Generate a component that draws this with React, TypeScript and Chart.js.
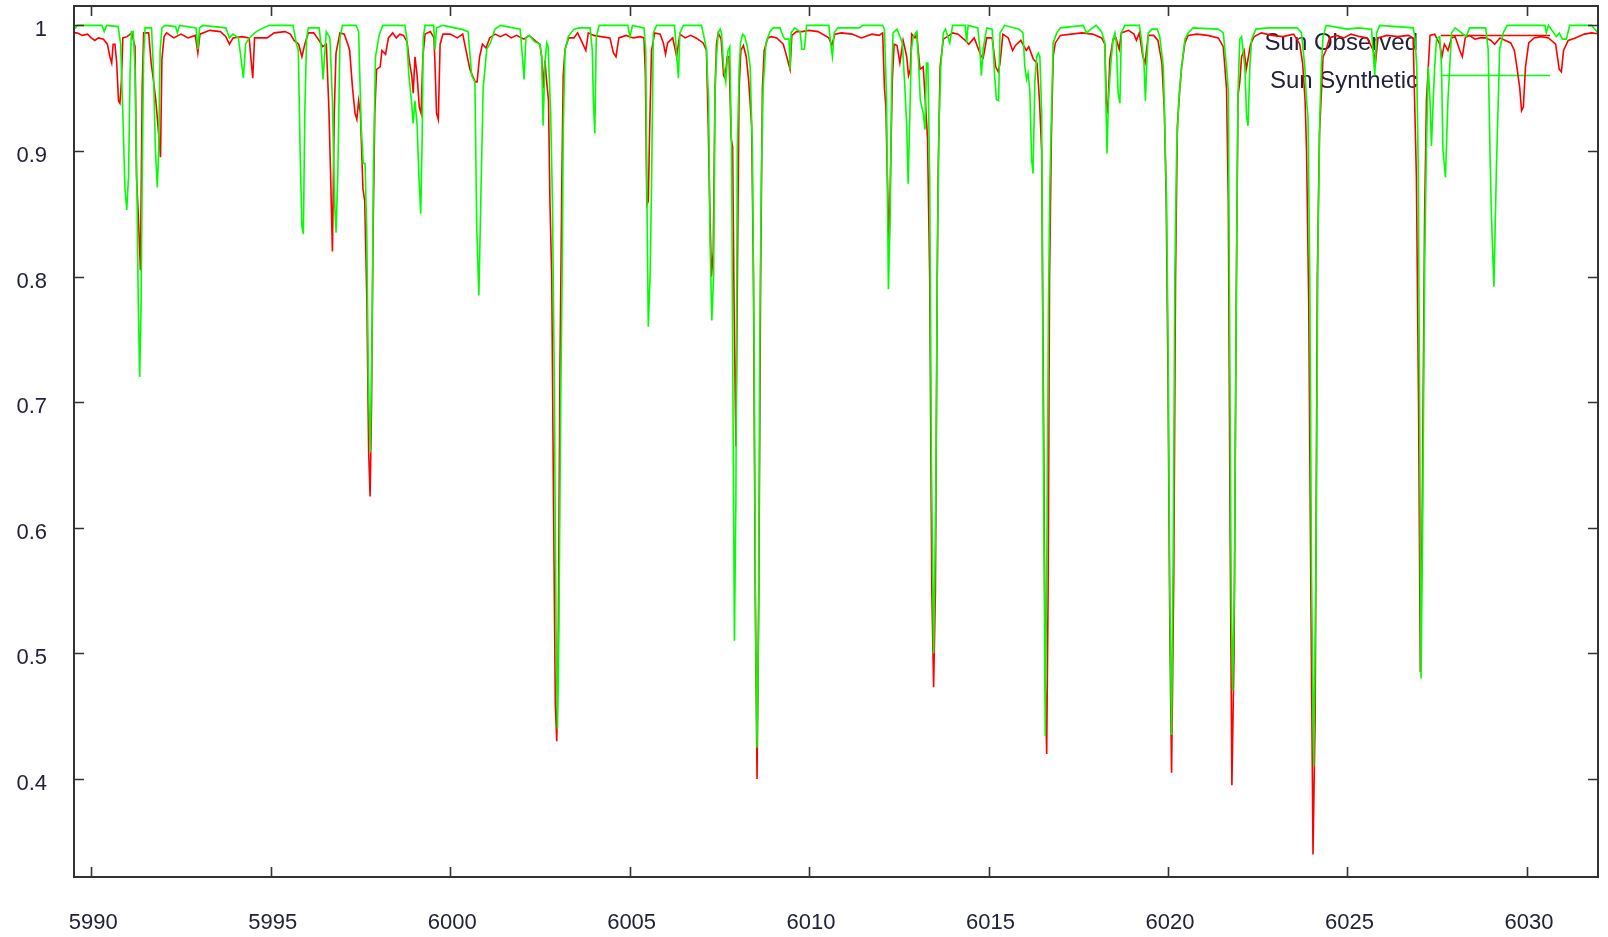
import { useEffect, useRef } from 'react';
import { Chart, registerables } from 'chart.js';

Chart.register(...registerables);

const seriesNames = ['Sun Observed', 'Sun Synthetic'];
const seriesColors = ['#ff0000', '#00ff00'];
const xTickValues = [5990, 5995, 6000, 6005, 6010, 6015, 6020, 6025, 6030];
const yTickValues = [0.4, 0.5, 0.6, 0.7, 0.8, 0.9, 1];
const xRange = [5989.52, 6031.98];
const yRange = [0.322, 1.0154];

// [wavelength, normalised flux]
const observedSpectrum: [number, number][] = [
  [5989.50,0.994],[5989.60,0.994],[5989.75,0.992],[5989.90,0.993],[5990.00,0.990],[5990.10,0.988],[5990.20,0.990],[5990.34,0.989],[5990.45,0.985],[5990.52,0.975],
  [5990.57,0.97],[5990.61,0.985],[5990.66,0.985],[5990.71,0.97],[5990.76,0.94],[5990.80,0.938],[5990.84,0.955],[5990.88,0.99],[5991.00,0.991],[5991.13,0.994],
  [5991.22,0.983],[5991.26,0.88],[5991.31,0.85],[5991.37,0.805],[5991.42,0.95],[5991.46,0.994],[5991.60,0.994],[5991.67,0.97],[5991.74,0.955],[5991.80,0.94],
  [5991.86,0.92],[5991.93,0.895],[5991.97,0.973],[5992.03,0.991],[5992.10,0.994],[5992.30,0.99],[5992.50,0.993],[5992.70,0.99],[5992.90,0.992],[5992.97,0.978],
  [5993.03,0.993],[5993.30,0.996],[5993.60,0.995],[5993.75,0.991],[5993.85,0.985],[5993.95,0.99],[5994.20,0.991],[5994.40,0.99],[5994.46,0.97],[5994.50,0.958],
  [5994.55,0.99],[5994.70,0.99],[5994.90,0.99],[5995.10,0.994],[5995.40,0.995],[5995.55,0.993],[5995.65,0.988],[5995.78,0.985],[5995.87,0.975],[5995.95,0.985],
  [5996.05,0.994],[5996.20,0.994],[5996.35,0.988],[5996.45,0.983],[5996.55,0.985],[5996.62,0.935],[5996.67,0.88],[5996.72,0.82],[5996.77,0.93],[5996.82,0.978],
  [5996.93,0.994],[5997.05,0.993],[5997.15,0.985],[5997.20,0.98],[5997.28,0.95],[5997.35,0.93],[5997.40,0.925],[5997.45,0.94],[5997.50,0.93],[5997.57,0.87],
  [5997.62,0.86],[5997.68,0.78],[5997.73,0.66],[5997.77,0.625],[5997.81,0.70],[5997.85,0.83],[5997.90,0.93],[5997.95,0.965],[5998.05,0.967],[5998.10,0.98],
  [5998.20,0.977],[5998.28,0.99],[5998.40,0.994],[5998.50,0.99],[5998.60,0.993],[5998.70,0.992],[5998.80,0.987],[5998.87,0.97],[5998.93,0.96],[5998.97,0.946],
  [5999.02,0.975],[5999.08,0.96],[5999.14,0.935],[5999.19,0.93],[5999.24,0.975],[5999.30,0.993],[5999.45,0.995],[5999.55,0.99],[5999.58,0.967],[5999.62,0.93],
  [5999.67,0.925],[5999.72,0.985],[5999.80,0.993],[6000.00,0.993],[6000.20,0.99],[6000.35,0.993],[6000.55,0.965],[6000.62,0.96],[6000.70,0.955],[6000.75,0.955],
  [6000.82,0.975],[6000.90,0.985],[6001.00,0.982],[6001.10,0.99],[6001.25,0.993],[6001.40,0.991],[6001.55,0.993],[6001.70,0.99],[6001.85,0.992],[6002.05,0.989],
  [6002.20,0.992],[6002.40,0.987],[6002.50,0.985],[6002.55,0.975],[6002.59,0.95],[6002.64,0.972],[6002.69,0.955],[6002.74,0.94],[6002.78,0.86],[6002.83,0.80],
  [6002.88,0.62],[6002.93,0.46],[6002.97,0.43],[6003.01,0.50],[6003.06,0.73],[6003.11,0.872],[6003.15,0.96],[6003.20,0.981],[6003.30,0.99],[6003.45,0.99],
  [6003.55,0.994],[6003.70,0.985],[6003.78,0.98],[6003.85,0.994],[6004.00,0.992],[6004.20,0.991],[6004.45,0.99],[6004.55,0.978],[6004.62,0.975],[6004.70,0.99],
  [6004.90,0.992],[6005.10,0.99],[6005.30,0.991],[6005.40,0.99],[6005.44,0.96],[6005.48,0.857],[6005.52,0.86],[6005.56,0.92],[6005.61,0.98],[6005.70,0.994],
  [6005.85,0.993],[6005.94,0.986],[6006.00,0.977],[6006.06,0.986],[6006.20,0.99],[6006.31,0.975],[6006.40,0.993],[6006.55,0.99],[6006.70,0.992],[6006.85,0.99],
  [6006.95,0.988],[6007.05,0.986],[6007.14,0.98],[6007.19,0.92],[6007.23,0.86],[6007.28,0.80],[6007.33,0.82],[6007.38,0.95],[6007.42,0.985],[6007.47,0.994],
  [6007.55,0.989],[6007.62,0.96],[6007.66,0.958],[6007.72,0.975],[6007.77,0.975],[6007.83,0.91],[6007.87,0.903],[6007.91,0.78],[6007.96,0.665],[6008.00,0.79],
  [6008.05,0.95],[6008.10,0.98],[6008.17,0.984],[6008.25,0.975],[6008.32,0.955],[6008.40,0.92],[6008.45,0.80],[6008.50,0.55],[6008.55,0.40],[6008.60,0.55],
  [6008.65,0.80],[6008.70,0.95],[6008.75,0.98],[6008.85,0.99],[6008.95,0.991],[6009.10,0.99],[6009.28,0.985],[6009.35,0.978],[6009.47,0.965],[6009.52,0.992],
  [6009.65,0.995],[6009.80,0.995],[6010.00,0.996],[6010.25,0.995],[6010.55,0.99],[6010.63,0.984],[6010.72,0.993],[6010.90,0.994],[6011.20,0.993],[6011.45,0.99],
  [6011.55,0.991],[6011.75,0.993],[6011.95,0.992],[6012.05,0.994],[6012.10,0.95],[6012.14,0.935],[6012.18,0.88],[6012.23,0.823],[6012.28,0.90],[6012.32,0.957],
  [6012.37,0.985],[6012.45,0.984],[6012.53,0.97],[6012.62,0.988],[6012.72,0.975],[6012.77,0.96],[6012.82,0.965],[6012.86,0.993],[6012.95,0.99],[6013.00,0.993],
  [6013.09,0.965],[6013.18,0.967],[6013.23,0.944],[6013.30,0.91],[6013.36,0.80],[6013.42,0.55],[6013.47,0.473],[6013.52,0.55],[6013.57,0.80],[6013.60,0.89],
  [6013.65,0.967],[6013.74,0.989],[6013.85,0.991],[6014.00,0.994],[6014.15,0.993],[6014.35,0.988],[6014.45,0.985],[6014.60,0.99],[6014.80,0.975],[6014.85,0.974],
  [6014.95,0.99],[6015.10,0.99],[6015.20,0.967],[6015.27,0.963],[6015.32,0.97],[6015.40,0.993],[6015.55,0.99],[6015.67,0.98],[6015.75,0.984],[6015.90,0.988],
  [6016.05,0.98],[6016.12,0.983],[6016.25,0.973],[6016.35,0.97],[6016.42,0.94],[6016.48,0.90],[6016.53,0.70],[6016.58,0.48],[6016.62,0.42],[6016.66,0.55],
  [6016.70,0.80],[6016.75,0.91],[6016.80,0.975],[6016.86,0.986],[6017.00,0.992],[6017.30,0.993],[6017.60,0.994],[6017.90,0.993],[6018.15,0.99],[6018.24,0.985],
  [6018.28,0.94],[6018.32,0.93],[6018.38,0.973],[6018.47,0.989],[6018.55,0.99],[6018.64,0.981],[6018.70,0.994],[6018.90,0.996],[6019.05,0.993],[6019.12,0.988],
  [6019.20,0.994],[6019.30,0.975],[6019.36,0.97],[6019.45,0.992],[6019.60,0.992],[6019.72,0.988],[6019.83,0.97],[6019.90,0.93],[6019.95,0.86],[6020.00,0.72],
  [6020.05,0.52],[6020.10,0.405],[6020.16,0.56],[6020.21,0.80],[6020.26,0.92],[6020.33,0.95],[6020.38,0.967],[6020.47,0.986],[6020.56,0.992],[6020.80,0.993],
  [6021.10,0.992],[6021.40,0.99],[6021.54,0.983],[6021.63,0.95],[6021.68,0.86],[6021.73,0.60],[6021.78,0.395],[6021.84,0.50],[6021.90,0.78],[6021.95,0.944],
  [6022.00,0.955],[6022.05,0.975],[6022.12,0.98],[6022.18,0.965],[6022.24,0.975],[6022.30,0.985],[6022.40,0.991],[6022.60,0.994],[6022.90,0.992],[6023.20,0.991],
  [6023.50,0.993],[6023.67,0.985],[6023.75,0.97],[6023.82,0.94],[6023.86,0.90],[6023.92,0.78],[6023.98,0.55],[6024.04,0.34],[6024.10,0.45],[6024.16,0.80],
  [6024.22,0.914],[6024.32,0.975],[6024.40,0.98],[6024.50,0.99],[6024.70,0.992],[6024.90,0.99],[6025.10,0.993],[6025.35,0.991],[6025.55,0.99],[6025.72,0.98],
  [6025.78,0.97],[6025.85,0.99],[6026.10,0.992],[6026.40,0.991],[6026.70,0.992],[6026.83,0.99],[6026.92,0.88],[6026.98,0.70],[6027.03,0.485],[6027.08,0.60],
  [6027.15,0.85],[6027.20,0.94],[6027.30,0.992],[6027.43,0.993],[6027.57,0.985],[6027.63,0.975],[6027.70,0.985],[6027.80,0.98],[6027.90,0.99],[6028.00,0.991],
  [6028.13,0.98],[6028.20,0.975],[6028.28,0.99],[6028.40,0.992],[6028.55,0.989],[6028.70,0.99],[6028.85,0.99],[6029.00,0.988],[6029.10,0.985],[6029.25,0.99],
  [6029.40,0.988],[6029.55,0.986],[6029.65,0.98],[6029.72,0.967],[6029.80,0.95],[6029.85,0.932],[6029.90,0.935],[6029.96,0.967],[6030.05,0.986],[6030.20,0.99],
  [6030.40,0.991],[6030.60,0.99],[6030.80,0.985],[6030.90,0.965],[6030.96,0.963],[6031.02,0.98],[6031.15,0.988],[6031.35,0.99],[6031.60,0.993],[6031.80,0.994],
  [6032.05,0.993],
];

const syntheticSpectrum: [number, number][] = [
  [5989.50,0.997],[5989.56,0.998],[5989.62,1.0],[5990.30,1.0],[5990.36,0.995],[5990.43,1.0],[5990.75,0.999],[5990.82,0.985],[5990.88,0.93],[5990.94,0.87],
  [5990.99,0.853],[5991.04,0.88],[5991.08,0.96],[5991.12,0.995],[5991.17,0.995],[5991.22,0.965],[5991.27,0.877],[5991.31,0.78],[5991.35,0.72],[5991.39,0.78],
  [5991.42,0.88],[5991.46,0.975],[5991.50,0.998],[5991.68,0.998],[5991.73,0.967],[5991.79,0.90],[5991.84,0.871],[5991.88,0.90],[5991.92,0.98],[5991.97,0.998],
  [5992.05,1.0],[5992.35,0.999],[5992.40,0.994],[5992.46,1.0],[5992.92,0.998],[5992.97,0.981],[5993.02,0.998],[5993.10,1.0],[5993.75,0.998],[5993.85,0.99],
  [5993.95,0.993],[5994.10,0.99],[5994.18,0.972],[5994.24,0.958],[5994.30,0.985],[5994.40,0.99],[5994.60,0.995],[5994.80,0.998],[5994.95,1.0],[5995.62,1.0],
  [5995.72,0.985],[5995.77,0.98],[5995.82,0.90],[5995.87,0.84],[5995.91,0.834],[5995.95,0.93],[5996.00,0.99],[5996.05,0.998],[5996.35,0.998],[5996.40,0.985],
  [5996.46,0.957],[5996.50,0.975],[5996.55,0.995],[5996.65,0.99],[5996.72,0.94],[5996.78,0.86],[5996.82,0.835],[5996.87,0.88],[5996.93,0.99],[5997.00,1.0],
  [5997.38,1.0],[5997.45,0.995],[5997.52,0.92],[5997.58,0.89],[5997.63,0.89],[5997.68,0.83],[5997.72,0.72],[5997.77,0.66],[5997.82,0.74],[5997.86,0.88],
  [5997.92,0.975],[5998.02,0.992],[5998.12,1.0],[5998.74,1.0],[5998.79,0.99],[5998.85,0.96],[5998.92,0.94],[5998.97,0.922],[5999.02,0.94],[5999.08,0.92],
  [5999.13,0.88],[5999.18,0.85],[5999.22,0.91],[5999.25,0.99],[5999.30,1.0],[5999.54,1.0],[5999.58,0.981],[5999.62,0.998],[5999.80,1.0],[6000.30,0.997],
  [6000.50,0.995],[6000.60,0.96],[6000.69,0.955],[6000.74,0.84],[6000.80,0.785],[6000.86,0.87],[6000.92,0.95],[6001.02,0.981],[6001.12,0.986],[6001.25,0.997],
  [6001.40,1.0],[6001.95,0.997],[6002.00,0.98],[6002.06,0.957],[6002.11,0.99],[6002.20,0.992],[6002.35,0.987],[6002.50,0.985],[6002.55,0.975],[6002.59,0.92],
  [6002.64,0.97],[6002.69,0.986],[6002.73,0.983],[6002.80,0.93],[6002.85,0.86],[6002.90,0.72],[6002.95,0.52],[6002.99,0.44],[6003.03,0.52],[6003.08,0.70],
  [6003.12,0.80],[6003.15,0.914],[6003.20,0.98],[6003.29,0.991],[6003.45,0.997],[6003.60,0.998],[6003.90,0.998],[6003.96,0.98],[6003.99,0.94],[6004.03,0.914],
  [6004.07,0.99],[6004.15,1.0],[6004.95,1.0],[6005.01,0.991],[6005.08,1.0],[6005.40,0.998],[6005.45,0.98],[6005.48,0.87],[6005.52,0.76],[6005.57,0.80],
  [6005.61,0.87],[6005.66,0.994],[6005.75,1.0],[6006.25,1.0],[6006.31,0.977],[6006.36,0.958],[6006.40,0.994],[6006.50,1.0],[6007.00,1.0],[6007.05,0.994],
  [6007.14,0.981],[6007.20,0.94],[6007.24,0.83],[6007.29,0.765],[6007.34,0.80],[6007.38,0.946],[6007.42,0.975],[6007.47,0.994],[6007.52,0.997],[6007.56,0.994],
  [6007.62,0.967],[6007.68,0.955],[6007.74,0.98],[6007.79,0.983],[6007.84,0.90],[6007.88,0.70],[6007.92,0.51],[6007.96,0.62],[6008.00,0.90],[6008.05,0.965],
  [6008.09,0.986],[6008.15,0.993],[6008.21,0.991],[6008.28,0.983],[6008.36,0.967],[6008.42,0.90],[6008.47,0.74],[6008.51,0.52],[6008.55,0.425],[6008.59,0.52],
  [6008.63,0.76],[6008.67,0.88],[6008.72,0.95],[6008.80,0.986],[6008.91,0.995],[6009.00,0.998],[6009.19,0.998],[6009.28,0.991],[6009.33,0.989],[6009.44,0.989],
  [6009.47,0.965],[6009.50,0.994],[6009.60,0.998],[6009.75,0.995],[6009.80,0.981],[6009.87,0.981],[6009.93,1.0],[6010.55,1.0],[6010.60,0.986],[6010.65,0.975],
  [6010.70,0.994],[6010.80,0.998],[6011.40,0.998],[6011.50,1.0],[6012.05,1.0],[6012.10,0.997],[6012.16,0.94],[6012.21,0.79],[6012.26,0.85],[6012.30,0.955],
  [6012.34,0.994],[6012.45,0.997],[6012.60,0.986],[6012.67,0.95],[6012.72,0.92],[6012.76,0.874],[6012.80,0.92],[6012.85,0.98],[6012.90,0.991],[6013.00,0.995],
  [6013.05,0.97],[6013.10,0.94],[6013.18,0.93],[6013.23,0.917],[6013.27,0.97],[6013.31,0.97],[6013.36,0.88],[6013.41,0.65],[6013.47,0.50],[6013.53,0.62],
  [6013.58,0.83],[6013.62,0.92],[6013.67,0.967],[6013.74,0.994],[6013.80,0.997],[6013.92,0.986],[6014.00,1.0],[6014.35,1.0],[6014.39,0.986],[6014.43,1.0],
  [6014.70,0.998],[6014.76,0.981],[6014.80,0.96],[6014.85,0.981],[6014.95,0.998],[6015.10,0.997],[6015.17,0.96],[6015.22,0.941],[6015.28,0.94],[6015.32,0.994],
  [6015.45,1.0],[6015.85,0.997],[6015.96,0.994],[6016.01,0.967],[6016.06,0.957],[6016.10,0.962],[6016.15,0.948],[6016.20,0.893],[6016.24,0.882],[6016.29,0.955],
  [6016.34,0.975],[6016.39,0.978],[6016.43,0.975],[6016.48,0.93],[6016.52,0.70],[6016.58,0.434],[6016.63,0.60],[6016.67,0.78],[6016.71,0.874],[6016.75,0.927],
  [6016.80,0.986],[6016.90,0.994],[6017.00,0.998],[6017.64,1.0],[6017.73,0.994],[6017.85,0.997],[6018.00,1.0],[6018.15,0.995],[6018.24,0.986],[6018.27,0.94],
  [6018.30,0.898],[6018.34,0.94],[6018.40,0.967],[6018.47,0.989],[6018.52,0.994],[6018.56,0.986],[6018.61,0.946],[6018.66,0.938],[6018.70,0.994],[6018.80,1.0],
  [6019.20,1.0],[6019.26,0.989],[6019.33,0.97],[6019.37,0.94],[6019.41,0.97],[6019.45,0.994],[6019.55,0.997],[6019.70,0.997],[6019.77,0.991],[6019.87,0.967],
  [6019.91,0.92],[6019.96,0.86],[6020.00,0.75],[6020.05,0.55],[6020.10,0.435],[6020.15,0.60],[6020.19,0.80],[6020.24,0.90],[6020.30,0.94],[6020.38,0.967],
  [6020.47,0.989],[6020.56,0.994],[6020.70,0.998],[6021.40,0.997],[6021.54,0.994],[6021.63,0.967],[6021.68,0.948],[6021.72,0.75],[6021.76,0.55],[6021.80,0.47],
  [6021.85,0.55],[6021.91,0.81],[6021.95,0.946],[6022.00,0.989],[6022.05,0.991],[6022.14,0.967],[6022.19,0.927],[6022.23,0.92],[6022.28,0.967],[6022.33,0.989],
  [6022.45,0.997],[6022.80,0.998],[6023.60,0.998],[6023.72,0.994],[6023.81,0.967],[6023.86,0.94],[6023.90,0.927],[6023.95,0.80],[6024.00,0.56],[6024.06,0.41],
  [6024.12,0.56],[6024.18,0.834],[6024.23,0.927],[6024.27,0.967],[6024.32,0.991],[6024.41,1.0],[6025.00,0.997],[6025.30,0.998],[6025.67,0.997],[6025.71,0.981],
  [6025.76,0.96],[6025.81,0.994],[6025.90,1.0],[6026.83,0.998],[6026.88,0.99],[6026.93,0.967],[6026.97,0.89],[6027.01,0.70],[6027.05,0.48],[6027.10,0.62],
  [6027.15,0.81],[6027.20,0.901],[6027.25,0.967],[6027.30,0.94],[6027.34,0.904],[6027.39,0.941],[6027.43,0.967],[6027.48,0.989],[6027.57,0.991],[6027.62,0.967],
  [6027.66,0.901],[6027.73,0.879],[6027.80,0.941],[6027.85,0.967],[6027.90,0.994],[6028.00,0.998],[6028.31,0.991],[6028.40,0.998],[6028.85,0.998],[6028.92,0.981],
  [6028.97,0.90],[6029.01,0.85],[6029.08,0.792],[6029.15,0.887],[6029.24,0.981],[6029.34,0.994],[6029.45,1.0],[6030.50,1.0],[6030.54,0.994],[6030.60,1.0],
  [6030.82,0.991],[6030.90,0.994],[6030.99,0.989],[6031.10,0.989],[6031.19,1.0],[6031.80,1.0],[6031.98,0.994],[6032.05,0.996],
];

const FONT = '"Liberation Sans", Arial, sans-serif';
const TEXT_COLOR = '#22223a';

const frameAndKey = {
  id: 'frameAndKey',
  beforeDatasetsDraw(chart: any) {
    const ctx = chart.ctx;
    ctx.save();
    ctx.font = `24px ${FONT}`;
    ctx.fillStyle = TEXT_COLOR;
    ctx.textAlign = 'right';
    ctx.textBaseline = 'alphabetic';
    const keyRows = [50, 88];
    const sampleY = [35.5, 75.5];
    seriesNames.forEach((name, i) => {
      ctx.fillText(name, 1418, keyRows[i]);
      ctx.strokeStyle = seriesColors[i];
      ctx.lineWidth = 1.5;
      ctx.beginPath();
      ctx.moveTo(1441, sampleY[i]);
      ctx.lineTo(1550, sampleY[i]);
      ctx.stroke();
    });
    ctx.restore();
  },
  afterDatasetsDraw(chart: any) {
    const ctx = chart.ctx;
    const a = chart.chartArea;
    const xs = chart.scales.x;
    const ys = chart.scales.y;
    const tl = 10;
    ctx.save();
    ctx.strokeStyle = '#333333';
    ctx.lineWidth = 1.6;
    ctx.beginPath();
    xTickValues.forEach((v) => {
      const px = Math.round(xs.getPixelForValue(v)) + 0.5;
      ctx.moveTo(px, a.bottom);
      ctx.lineTo(px, a.bottom - tl);
      ctx.moveTo(px, a.top);
      ctx.lineTo(px, a.top + tl);
    });
    yTickValues.forEach((v) => {
      const py = Math.round(ys.getPixelForValue(v)) + 0.5;
      ctx.moveTo(a.left, py);
      ctx.lineTo(a.left + tl, py);
      ctx.moveTo(a.right, py);
      ctx.lineTo(a.right - tl, py);
    });
    ctx.stroke();
    ctx.lineWidth = 2;
    ctx.strokeRect(a.left, a.top, a.right - a.left, a.bottom - a.top);
    ctx.restore();
  },
};

export default function App() {
  const ref = useRef<HTMLCanvasElement | null>(null);

  useEffect(() => {
    const canvas = ref.current;
    if (!canvas) return;
    const chart = new Chart(canvas, {
      type: 'line',
      data: {
        datasets: [
          {
            label: seriesNames[0],
            data: observedSpectrum.map(([x, y]) => ({ x, y })),
            borderColor: seriesColors[0],
            backgroundColor: seriesColors[0],
            borderWidth: 1.6,
            pointRadius: 0,
            tension: 0,
            fill: false,
            order: 2,
          },
          {
            label: seriesNames[1],
            data: syntheticSpectrum.map(([x, y]) => ({ x, y })),
            borderColor: seriesColors[1],
            backgroundColor: seriesColors[1],
            borderWidth: 1.6,
            pointRadius: 0,
            tension: 0,
            fill: false,
            order: 1,
          },
        ],
      },
      options: {
        animation: false,
        responsive: true,
        maintainAspectRatio: false,
        devicePixelRatio: 1,
        events: [],
        layout: { padding: { top: 6, right: 10, bottom: 0, left: 0 } },
        plugins: {
          legend: { display: false },
          tooltip: { enabled: false },
        },
        scales: {
          x: {
            type: 'linear',
            min: xRange[0],
            max: xRange[1],
            grid: { display: false, drawTicks: false },
            border: { display: false },
            afterBuildTicks: (s: any) => {
              s.ticks = xTickValues.map((v) => ({ value: v }));
            },
            afterFit: (s: any) => {
              s.height = 60;
              s.paddingLeft = 0;
              s.paddingRight = 0;
              s.paddingTop = 0;
              s.paddingBottom = 0;
            },
            ticks: {
              autoSkip: false,
              maxRotation: 0,
              padding: 33,
              labelOffset: 2,
              color: TEXT_COLOR,
              font: { family: FONT, size: 22 },
              callback: (v: any) => String(v),
            },
          },
          y: {
            type: 'linear',
            min: yRange[0],
            max: yRange[1],
            grid: { display: false, drawTicks: false },
            border: { display: false },
            afterBuildTicks: (s: any) => {
              s.ticks = yTickValues.map((v) => ({ value: v }));
            },
            afterFit: (s: any) => {
              s.width = 74;
              s.paddingTop = 0;
              s.paddingBottom = 0;
              s.paddingLeft = 0;
              s.paddingRight = 0;
            },
            ticks: {
              autoSkip: false,
              padding: 27,
              labelOffset: 5,
              color: TEXT_COLOR,
              font: { family: FONT, size: 22 },
              callback: (v: any) => (Number(v) === 1 ? '1' : Number(v).toFixed(1)),
            },
          },
        },
      },
      plugins: [frameAndKey],
    } as any);
    return () => chart.destroy();
  }, []);

  return (
    <div style={{ position: 'absolute', left: 0, top: 0, width: 1608, height: 937, background: '#ffffff' }}>
      <canvas ref={ref} />
    </div>
  );
}
